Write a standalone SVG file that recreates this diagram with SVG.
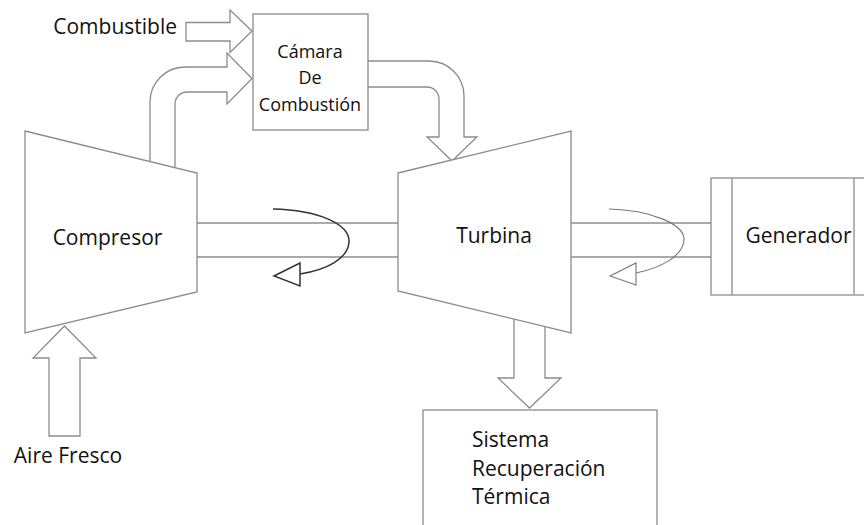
<svg xmlns="http://www.w3.org/2000/svg" width="864" height="525" viewBox="0 0 864 525">
<style>
.sh{fill:#fff;stroke:#8c8c8c;stroke-width:1.3}
.ln{fill:none;stroke:#8c8c8c;stroke-width:1.3}
.t{font-family:"Open Sans","Liberation Sans",sans-serif;font-size:21px;fill:#111}
.ts{font-family:"Open Sans","Liberation Sans",sans-serif;font-size:18px;fill:#111}
</style>
<rect width="864" height="525" fill="#fff"/>
<g id="connectors">
<line class="ln" x1="197" y1="223" x2="398" y2="223"/>
<line class="ln" x1="197" y1="257" x2="398" y2="257"/>
<line class="ln" x1="571" y1="223" x2="711" y2="223"/>
<line class="ln" x1="571" y1="257" x2="711" y2="257"/>
<path class="sh" d="M186,22.5 H230 V10 L252,31 L230,52.5 V41 H186 Z"/>
<path class="sh" d="M150,161.5 V102 A35,35 0 0 1 185,67 H227 V53 L252,78.5 L227,104 V92 H187 A12,12 0 0 0 175,104 V167.6"/>
<path class="sh" d="M368,61 H429 A35,35 0 0 1 464,96 V137 H477 L452,161 L427,137 H439 V99 A12,12 0 0 0 427,87 H368"/>
<path class="sh" d="M514,319 V378 H498 L529.5,408 L561,378 H545 V327"/>
<path class="sh" d="M49,436 V358 H33 L64.5,326 L96,358 H80 V436 Z"/>
<path fill="none" stroke="#333" stroke-width="1.5" d="M273,209 C318,210 350,224 349,242 C348,259 326,270 300,274"/>
<path fill="#fff" stroke="#333" stroke-width="1.5" d="M274,276 L300,263 L300,286 Z"/>
<path fill="none" stroke="#777" stroke-width="1.1" d="M609,209 C650,210 685,224 684,240 C683,256 661,268 636,273"/>
<path fill="#fff" stroke="#777" stroke-width="1.1" d="M610,276 L636,263 L636,285 Z"/>
</g>
<g id="compresor">
<path class="sh" d="M25,131 L197,173 L197,292 L25,333 Z"/>
<text class="t" x="107.5" y="245" text-anchor="middle">Compresor</text>
</g>
<g id="turbina">
<path class="sh" d="M398,173 L571,131 L571,333 L398,291 Z"/>
<text class="t" x="494" y="243" text-anchor="middle">Turbina</text>
</g>
<g id="camara">
<rect class="sh" x="253" y="14" width="115" height="116"/>
<text class="ts" x="310" y="58" text-anchor="middle">Cámara</text>
<text class="ts" x="310" y="84" text-anchor="middle">De</text>
<text class="ts" x="310" y="111" text-anchor="middle">Combustión</text>
</g>
<g id="generador">
<rect class="sh" x="711" y="178" width="170" height="117"/>
<line class="ln" x1="732" y1="178" x2="732" y2="295"/>
<line class="ln" x1="854" y1="178" x2="854" y2="295"/>
<text class="t" x="798.5" y="243" text-anchor="middle">Generador</text>
</g>
<g id="recuperacion">
<rect class="sh" x="423" y="410" width="234" height="130"/>
<text class="t" x="472" y="447">Sistema</text>
<text class="t" x="472" y="476">Recuperación</text>
<text class="t" x="472" y="504">Térmica</text>
</g>
<g id="combustible">
<text class="t" x="177" y="34" text-anchor="end">Combustible</text>
</g>
<g id="aire">
<text class="t" x="68" y="463" text-anchor="middle">Aire Fresco</text>
</g>
</svg>
